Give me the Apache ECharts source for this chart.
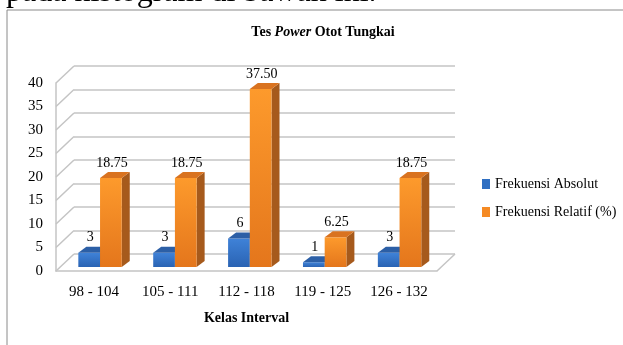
<!DOCTYPE html>
<html>
<head>
<meta charset="utf-8">
<script src="https://cdn.jsdelivr.net/npm/echarts@6/dist/echarts.min.js"></script>
<style>
html,body{margin:0;padding:0;background:#fff;}
#chart{width:623px;height:345px;}
</style>
</head>
<body>
<div id="chart"></div>
<script>
const categories = ['98 - 104', '105 - 111', '112 - 118', '119 - 125', '126 - 132'];
const frekuensiAbsolut = [3, 3, 6, 1, 3];
const frekuensiRelatif = [18.75, 18.75, 37.5, 6.25, 18.75];
const yTicks = [0, 5, 10, 15, 20, 25, 30, 35, 40];
const seriesNames = ['Frekuensi Absolut', 'Frekuensi Relatif (%)'];

const FONT = "'Liberation Serif', 'Times New Roman', serif";
const GRID_COLOR = '#c4c4c4';
const DX = 8, DY = 6;        // bar depth
const WX = 18, WY = 17;      // wall depth

const palettes = [
  { front: ['#3f82d8', '#2a63b3'], top: '#2c5fa6', side: '#1f4883', label: v => String(v) },
  { front: ['#fd9a2c', '#e4761c'], top: '#d97320', side: '#a65a1c', label: v => v.toFixed(2) }
];

function makeBar(idx) {
  const p = palettes[idx];
  return function (params, api) {
    const cat = api.value(0), v = api.value(1);
    const base = api.coord([cat, 0]);
    const top = api.coord([cat, v]);
    const band = api.size([1, 0])[0];
    const w = band * 0.29;
    const x0 = idx === 0 ? base[0] - w : base[0];
    const x1 = x0 + w;
    const yb = base[1], yt = top[1];
    return {
      type: 'group',
      children: [
        { type: 'polygon', shape: { points: [[x1, yt], [x1 + DX, yt - DY], [x1 + DX, yb - DY], [x1, yb]] },
          style: { fill: p.side } },
        { type: 'rect', shape: { x: x0, y: yt, width: w, height: yb - yt },
          style: { fill: new echarts.graphic.LinearGradient(0, 0, 0, 1, [
            { offset: 0, color: p.front[0] }, { offset: 1, color: p.front[1] }]) } },
        { type: 'polygon', shape: { points: [[x0, yt], [x1, yt], [x1 + DX, yt - DY], [x0 + DX, yt - DY]] },
          style: { fill: p.top } },
        { type: 'text', x: (x0 + x1) / 2 + 1, y: yt - 8,
          style: { text: p.label(v), align: 'center', verticalAlign: 'bottom',
                   font: '14px ' + FONT, fill: '#000' } }
      ]
    };
  };
}

const chart = echarts.init(document.getElementById('chart'), null, { renderer: 'canvas' });
chart.setOption({
  animation: false,
  backgroundColor: '#fff',
  title: {
    text: '{b|Tes }{i|Power}{b| Otot Tungkai}',
    left: 318, top: 20, textAlign: 'center',
    textStyle: {
      rich: {
        b: { fontFamily: FONT, fontWeight: 'bold', fontSize: 14, color: '#000' },
        i: { fontFamily: FONT, fontWeight: 'bold', fontStyle: 'italic', fontSize: 14, color: '#000' }
      }
    }
  },
  graphic: [
    { type: 'text', x: 6, y: -7.5, silent: true,
      style: { text: 'pada histogram di bawah ini.', font: '32px ' + FONT, fill: '#000', verticalAlign: 'middle' } },
    { type: 'line', shape: { x1: 7, y1: 10, x2: 623, y2: 10 }, style: { stroke: '#8a8a8a', lineWidth: 1 } },
    { type: 'line', shape: { x1: 7, y1: 10, x2: 7, y2: 345 }, style: { stroke: '#8a8a8a', lineWidth: 1 } }
  ],
  legend: {
    data: seriesNames,
    orient: 'vertical',
    left: 477, top: 172,
    itemWidth: 8, itemHeight: 10, itemGap: 14,
    icon: 'rect',
    textStyle: { fontFamily: FONT, fontSize: 14, color: '#000' }
  },
  grid: [
    { left: 56, right: 186, top: 83, bottom: 74 },      // front plane (labels)
    { left: 74, right: 168, top: 66, bottom: 91 },      // back wall
    { left: 62.6, right: 186, top: 77, bottom: 78 }     // bars
  ],
  xAxis: [
    { gridIndex: 0, type: 'category', data: categories,
      axisLine: { show: true, lineStyle: { color: GRID_COLOR, width: 1.5 } },
      axisTick: { show: false },
      axisLabel: { fontFamily: FONT, fontSize: 15, color: '#000', margin: 14 },
      name: 'Kelas Interval', nameLocation: 'middle', nameGap: 40,
      nameTextStyle: { fontFamily: FONT, fontSize: 14, fontWeight: 'bold', color: '#000' } },
    { gridIndex: 1, type: 'category', data: categories, show: false },
    { gridIndex: 2, type: 'category', data: categories, show: false }
  ],
  yAxis: [
    { gridIndex: 0, type: 'value', min: 0, max: 40, interval: 5,
      axisLine: { show: true, lineStyle: { color: GRID_COLOR, width: 1.5 } },
      axisTick: { show: false }, splitLine: { show: false },
      axisLabel: { fontFamily: FONT, fontSize: 15, color: '#000', margin: 13 } },
    { gridIndex: 1, type: 'value', min: 0, max: 40, interval: 5,
      axisLine: { show: false }, axisTick: { show: false }, axisLabel: { show: false },
      splitLine: { show: true, lineStyle: { color: GRID_COLOR, width: 1.5 } } },
    { gridIndex: 2, type: 'value', min: 0, max: 40, show: false, splitLine: { show: false } }
  ],
  series: [
    { type: 'custom', name: 'walls', xAxisIndex: 0, yAxisIndex: 0, silent: true, z: 1,
      data: yTicks.map(t => [0, t]),
      renderItem: function (params, api) {
        const cs = params.coordSys;
        const y = api.coord([0, api.value(1)])[1];
        const children = [{ type: 'line', shape: { x1: cs.x, y1: y, x2: cs.x + WX, y2: y - WY },
          style: { stroke: GRID_COLOR, lineWidth: 1.5 } }];
        if (api.value(1) === 0) {
          children.push({ type: 'line', shape: { x1: cs.x + cs.width, y1: y, x2: cs.x + cs.width + WX, y2: y - WY },
            style: { stroke: GRID_COLOR, lineWidth: 1.5 } });
        }
        return { type: 'group', children: children };
      } },
    { type: 'custom', name: seriesNames[0], xAxisIndex: 2, yAxisIndex: 2, z: 3,
      itemStyle: { color: '#2f6fc2' },
      data: frekuensiAbsolut.map((v, i) => [i, v]),
      renderItem: makeBar(0) },
    { type: 'custom', name: seriesNames[1], xAxisIndex: 2, yAxisIndex: 2, z: 4,
      itemStyle: { color: '#f58a24' },
      data: frekuensiRelatif.map((v, i) => [i, v]),
      renderItem: makeBar(1) }
  ]
});
</script>
</body>
</html>
